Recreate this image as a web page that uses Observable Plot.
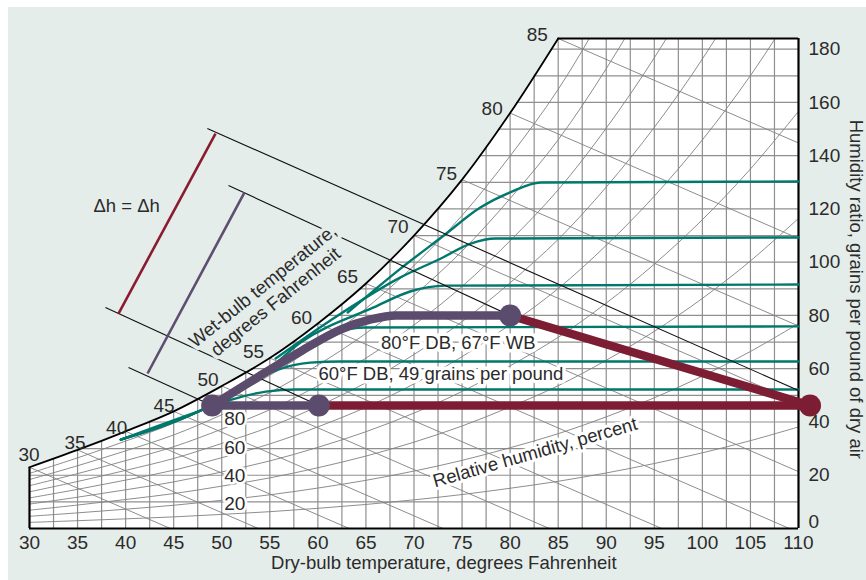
<!DOCTYPE html>
<html><head><meta charset="utf-8">
<script src="https://cdn.jsdelivr.net/npm/d3@7"></script>
<script src="https://cdn.jsdelivr.net/npm/@observablehq/plot@0.6"></script>
<style>
html,body{margin:0;padding:0;background:#fff;}
#wrap{width:866px;height:580px;box-sizing:border-box;padding:7px 0 0 8px;background:#fff;overflow:hidden}
#wrap svg{display:block}
</style></head><body><div id="wrap"></div>
<script>
// ---------- data ----------
const dryBulb   = [30,35,40,45,50,55,60,65,70,75,80,85,90,95,100,105,110];
const satGrains = [23,29.5,36.5,44,53.5,64,77,92,110,131,156,184,218,257,302,354,414];
const wetBulbTemps = [30,35,40,45,50,55,60,65,70,75,80,85];
const rhPercents = [10,20,30,40,50,60,70,80,90];
const rhLabelPercents = [20,40,60,80];
const grainTicks = [20,40,60,80,100,120,140,160,180];
const grainZeroTick = [0];
const dryBulbTicks = [30,35,40,45,50,55,60,65,70,75,80,85,90,95,100,105,110];
const wetBulbSlope = 1.57; // grains per °F drop along a wet-bulb line

// teal curves
const teal1T = [39.5,47.8,51.4,54.6,57.7,110];
const teal1W = [33.4,44.3,48.8,51.4,52.2,52.2];
const teal2T = [39.5,47.8,52.0,55.6,59.2,62.4,110];
const teal2W = [33.4,44.3,52.6,59.3,62.3,62.7,62.7];
const teal3T = [39.5,47.8,54.0,58.2,61.8,65.0,110];
const teal3W = [33.4,44.3,56.3,66.1,73.6,75.5,75.9];
const teal4T = [39.5,47.8,54.0,58.2,65.8,69.6,73.3,110];
const teal4W = [33.4,44.3,57.1,69.8,83.0,89.0,91.2,91.6];
const teal5T = [55.6,61.3,68.6,72.8,75.9,78.5,110];
const teal5W = [63.8,78.1,94.3,101.4,107.0,108.9,109.3];
const teal6T = [63.1,68.6,73.1,76.9,80.0,83.2,110];
const teal6W = [81.1,97.6,110.0,120.5,126.2,129.9,130.3];

// process paths
const purplePathT = [49.0,53.5,58.2,62.35,65.5,68.1,80.0];
const purplePathW = [46.2,56.3,66.5,74.7,78.5,80.0,80.0];
const stateT = [49.0,60.1,80.0,111.2];
const stateW = [46.2,46.2,80.0,46.2];
const stateKind = ["p","p","p","m"];

// enthalpy construction lines
const guideT1 = [48.5,50.7,37.9,40.3];
const guideW1 = [150.2,128.8,83.0,60.5];
const guideT2 = [110,80.0,60.1,49.0];
const guideW2 = [51.8,80.0,46.2,46.2];
const dhRedT = [49.35,39.26], dhRedW = [148.3,80.7];
const dhPurpleT = [52.37,42.28], dhPurpleW = [126.2,58.2];

// ---------- styles ----------
const BG = "#e5edea", TEAL = "#00786d", MAROON = "#7c1d34", PURPLE = "#5b4b6d";
const INK = "#2b2b2b", GRID = "#8f8f8f", DIAG = "#808080";
const FONT = "'Liberation Sans', Arial, sans-serif";

// ---------- derived tables ----------
const sat = dryBulb.map((t,i)=>({t, w: satGrains[i]})).filter(d=>d.t<=85);
const rhW = (r, ws) => 4354*r*ws/(4354 + ws - r*ws);
const rhData = rhPercents.flatMap(p => dryBulb.map((t,i)=>({p, t, w: rhW(p/100, satGrains[i])})));
const wbLines = wetBulbTemps.map(t => { const w = satGrains[dryBulb.indexOf(t)]; return {t1:t, w1:w, t2:t + w/wetBulbSlope, w2:0}; });
const tealSets = [[teal1T,teal1W],[teal2T,teal2W],[teal3T,teal3W],[teal4T,teal4W],[teal5T,teal5W],[teal6T,teal6W]];
const tealData = tealSets.flatMap(([T,W],k)=>T.map((t,i)=>({k, t, w: W[i]})));
const purplePath = purplePathT.map((t,i)=>({t, w: purplePathW[i]}));
const states = stateT.map((t,i)=>({t, w: stateW[i], kind: stateKind[i]}));
const guides = guideT1.map((t,i)=>({t1:t, w1:guideW1[i], t2:guideT2[i], w2:guideW2[i]}));
const w50 = satGrains[dryBulb.indexOf(50)];
const rhLabels = rhLabelPercents.map(p=>({p, t:50, w: rhW(p/100, w50)}));

// wet-bulb label offsets (px, layout only)
const wbLabelOffsets = [[-0.5,-12],[-2.6,-7],[-9,-3],[-9.7,-5],[-13.7,-6],[-16.3,-6],[-16.4,-6],[-18.4,-7],[-16,-9],[-15.6,-6],[-18,-4.6],[-21,-4]];
const wbLabelMarks = wetBulbTemps.map((t,i)=>Plot.text([{t, w: Math.min(satGrains[dryBulb.indexOf(t)],184)}], {
  x:"t", y:"w", text: d=>String(d.t), dx: wbLabelOffsets[i][0], dy: wbLabelOffsets[i][1],
  fontSize: 19, fill: INK, textAnchor: "middle"
}));

const chart = Plot.plot({
  width: 858, height: 573,
  marginLeft: 21, marginRight: 68, marginTop: 31, marginBottom: 52,
  style: {background: BG, fontFamily: FONT, fontSize: "19px", color: INK, overflow: "visible"},
  x: {domain: [30,110], ticks: dryBulbTicks, tickSize: 0, tickPadding: 7, label: null, tickFormat: d=>String(d)},
  y: {domain: [0,184], axis: "right", ticks: grainTicks, tickSize: 0, tickPadding: 10, label: null, tickFormat: d=>String(d)},
  marks: [
    Plot.frame({fill: "white", stroke: null}),
    Plot.ruleX(d3.range(32.5, 110, 2.5), {y1: 0, y2: 184, stroke: GRID, strokeWidth: 1.2}),
    Plot.ruleY(d3.range(10, 184, 10), {x1: 30, x2: 110, stroke: GRID, strokeWidth: 1.2}),
    Plot.line(rhData, {x:"t", y:"w", z:"p", curve:"catmull-rom", stroke: DIAG, strokeWidth: 0.9, clip: true}),
    Plot.link(wbLines, {x1:"t1", y1:"w1", x2:"t2", y2:"w2", stroke: DIAG, strokeWidth: 0.9, clip: true}),
    // cover above saturation
    Plot.areaY(sat, {x:"t", y1:"w", y2: 186, curve:"catmull-rom", fill: BG}),
    // RH and other labels with white halo
    Plot.text(rhLabels, {x:"t", y:"w", text: d=>String(d.p), dx: 13, dy: 4, fontSize: 19, fill: INK, stroke: "white", strokeWidth: 5, paintOrder: "stroke"}),
    Plot.text(["Relative humidity, percent"], {x: 82.6, y: 28.5, text: d=>d, rotate: -16, fontSize: 18.5, fill: INK, stroke: "white", strokeWidth: 6, paintOrder: "stroke"}),
    Plot.text(["80°F DB, 67°F WB"], {x: 74.6, y: 69.5, text: d=>d, fontSize: 18.5, fill: INK, stroke: "white", strokeWidth: 7, paintOrder: "stroke"}),
    Plot.text(["60°F DB, 49 grains per pound"], {x: 72.8, y: 57.8, text: d=>d, fontSize: 18.5, fill: INK, stroke: "white", strokeWidth: 7, paintOrder: "stroke"}),
    // saturation curve and frame
    Plot.line(sat, {x:"t", y:"w", curve:"catmull-rom", stroke: "black", strokeWidth: 1.8}),
    Plot.ruleY([0], {x1: 30, x2: 110, stroke: "black", strokeWidth: 2.2}),
    Plot.ruleX([110], {y1: 0, y2: 184, stroke: "black", strokeWidth: 2.2}),
    Plot.ruleX([30], {y1: 0, y2: satGrains[0], stroke: "black", strokeWidth: 2.2}),
    Plot.ruleY([184], {x1: 85, x2: 110, stroke: "black", strokeWidth: 2.2}),
    // teal curves
    Plot.line(tealData, {x:"t", y:"w", z:"k", curve:"monotone-x", stroke: TEAL, strokeWidth: 2.4}),
    // construction lines
    Plot.link(guides, {x1:"t1", y1:"w1", x2:"t2", y2:"w2", stroke: "#111", strokeWidth: 1.1}),
    Plot.link([0], {x1: dhRedT[0], y1: dhRedW[0], x2: dhRedT[1], y2: dhRedW[1], stroke: "#8a1c32", strokeWidth: 2.6}),
    Plot.link([0], {x1: dhPurpleT[0], y1: dhPurpleW[0], x2: dhPurpleT[1], y2: dhPurpleW[1], stroke: "#5e4e70", strokeWidth: 2.6}),
    Plot.text(["Wet-bulb temperature,\ndegrees Fahrenheit"], {x: 54.9, y: 88.2, text: d=>d, rotate: -39, fontSize: 18.5, lineHeight: 1.1, fill: INK, stroke: BG, strokeWidth: 8, paintOrder: "stroke"}),
    Plot.text(["Δh = Δh"], {x: 40.1, y: 121, text: d=>d, fontSize: 18.5, fill: INK}),
    // process lines
    Plot.line(purplePath, {x:"t", y:"w", curve:"monotone-x", stroke: PURPLE, strokeWidth: 8.5, strokeLinejoin: "round"}),
    Plot.link([0], {x1: stateT[0], y1: stateW[0], x2: stateT[1], y2: stateW[1], stroke: PURPLE, strokeWidth: 8.5}),
    Plot.link([0], {x1: stateT[1], y1: stateW[1], x2: stateT[3], y2: stateW[3], stroke: MAROON, strokeWidth: 8.5}),
    Plot.link([0], {x1: stateT[2], y1: stateW[2], x2: stateT[3], y2: stateW[3], stroke: MAROON, strokeWidth: 8.5}),
    Plot.dot(states, {x:"t", y:"w", r: 11, fill: d=>d.kind==="m"?MAROON:PURPLE, stroke: null}),
    ...wbLabelMarks,
    // zero tick label on the right axis, lifted above the bottom labels
    Plot.text(grainZeroTick, {y: d=>d, frameAnchor: "right", dx: 10, dy: -7, textAnchor: "start", lineAnchor: "middle", text: d=>String(d), fontSize: 19, fill: INK}),
    // axis titles
    Plot.text(["Dry-bulb temperature, degrees Fahrenheit"], {x: 73.1, frameAnchor: "bottom", dy: 35, lineAnchor: "middle", textAnchor: "middle", text: d=>d, fontSize: 18.5, fill: INK}),
    Plot.text(["Humidity ratio, grains per pound of dry air"], {y: 89.8, frameAnchor: "right", dx: 57, rotate: 90, textAnchor: "middle", lineAnchor: "middle", text: d=>d, fontSize: 18.5, fill: INK})
  ]
});
document.getElementById("wrap").appendChild(chart);
</script></body></html>
